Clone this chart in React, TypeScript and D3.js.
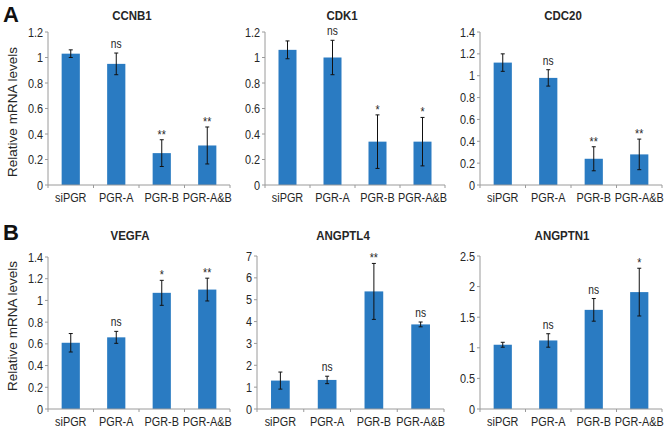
import React from "react";
import * as d3 from "d3";

const categories = ["siPGR", "PGR-A", "PGR-B", "PGR-A&B"];

const ccnb1Values = [1.03, 0.95, 0.25, 0.31];
const ccnb1Err = [0.03, 0.085, 0.105, 0.145];
const ccnb1Marks = ["", "ns", "**", "**"];

const cdk1Values = [1.06, 1.0, 0.34, 0.34];
const cdk1Err = [0.07, 0.135, 0.21, 0.19];
const cdk1Marks = ["", "ns", "*", "*"];

const cdc20Values = [1.12, 0.98, 0.24, 0.28];
const cdc20Err = [0.08, 0.075, 0.11, 0.14];
const cdc20Marks = ["", "ns", "**", "**"];

const vegfaValues = [0.61, 0.66, 1.07, 1.1];
const vegfaErr = [0.085, 0.055, 0.115, 0.105];
const vegfaMarks = ["", "ns", "*", "**"];

const angptl4Values = [1.3, 1.33, 5.38, 3.87];
const angptl4Err = [0.39, 0.17, 1.28, 0.11];
const angptl4Marks = ["", "ns", "**", "ns"];

const angptn1Values = [1.05, 1.12, 1.62, 1.91];
const angptn1Err = [0.04, 0.11, 0.185, 0.39];
const angptn1Marks = ["", "ns", "ns", "*"];

const ccnb1Ticks = [0, 0.2, 0.4, 0.6, 0.8, 1, 1.2];
const cdk1Ticks = [0, 0.2, 0.4, 0.6, 0.8, 1, 1.2];
const cdc20Ticks = [0, 0.2, 0.4, 0.6, 0.8, 1, 1.2, 1.4];
const vegfaTicks = [0, 0.2, 0.4, 0.6, 0.8, 1, 1.2, 1.4];
const angptl4Ticks = [0, 1, 2, 3, 4, 5, 6, 7];
const angptn1Ticks = [0, 0.5, 1, 1.5, 2, 2.5];

const BAR = "#2a7bc2";
const AXIS = "#9a9a9a";
const TEXT = "#262626";
const FONT = "'Liberation Sans', Arial, sans-serif";
const SX = 0.85;

type PanelProps = {
  title: string;
  values: number[];
  errs: number[];
  marks: string[];
  ticks: number[];
  x0: number;
  x1: number;
  yTop: number;
  yBot: number;
  titleX: number;
  titleY: number;
};

function Panel(p: PanelProps) {
  const x = d3.scaleBand<string>().domain(categories).range([p.x0, p.x1]).paddingInner(0.6).paddingOuter(0.3);
  const xb = d3.scaleBand<string>().domain(categories).range([p.x0, p.x1]);
  const maxT = p.ticks[p.ticks.length - 1];
  const y = d3.scaleLinear().domain([0, maxT]).range([p.yBot, p.yTop]);
  return (
    <g>
      <text
        transform={`translate(${p.titleX},${p.titleY}) scale(${SX},1)`}
        textAnchor="middle"
        fontFamily={FONT}
        fontWeight="bold"
        fontSize={13.5}
        fill={TEXT}
      >
        {p.title}
      </text>
      <line x1={p.x0} x2={p.x0} y1={y(0)} y2={y(maxT)} stroke={AXIS} strokeWidth={1} />
      {p.ticks.map((t) => (
        <g key={t}>
          <line x1={p.x0 - 3} x2={p.x0} y1={y(t)} y2={y(t)} stroke={AXIS} />
          <text
            transform={`translate(${p.x0 - 5},${y(t) + 4.6}) scale(${SX},1)`}
            textAnchor="end"
            fontFamily={FONT}
            fontSize={12.8}
            fill={TEXT}
          >
            {String(t)}
          </text>
        </g>
      ))}
      {categories.map((c, i) => {
        const cx = (x(c) as number) + x.bandwidth() / 2;
        const v = p.values[i];
        const e = p.errs[i];
        const top = y(v + e);
        const bot = y(v - e);
        const mark = p.marks[i];
        return (
          <g key={c}>
            <rect x={x(c)} y={y(v)} width={x.bandwidth()} height={y(0) - y(v)} fill={BAR} />
            <line x1={cx} x2={cx} y1={top} y2={bot} stroke="#111" strokeWidth={1} />
            <line x1={cx - 2} x2={cx + 2} y1={top} y2={top} stroke="#111" strokeWidth={1} />
            <line x1={cx - 2} x2={cx + 2} y1={bot} y2={bot} stroke="#111" strokeWidth={1} />
            {mark && (
              <text
                transform={`translate(${cx},${mark === "ns" ? top - 5 : top - 1}) scale(${SX},1)`}
                textAnchor="middle"
                fontFamily={FONT}
                fontSize={mark === "ns" ? 12 : 12.5}
                fill={TEXT}
              >
                {mark}
              </text>
            )}
          </g>
        );
      })}
      <line x1={p.x0} x2={p.x1} y1={y(0)} y2={y(0)} stroke={AXIS} strokeWidth={1} />
      {categories.map((c) => (
        <line key={"t" + c} x1={xb(c)} x2={xb(c)} y1={y(0)} y2={y(0) + 3} stroke={AXIS} />
      ))}
      <line x1={p.x1} x2={p.x1} y1={y(0)} y2={y(0) + 3} stroke={AXIS} />
      {categories.map((c) => (
        <text
          key={"l" + c}
          transform={`translate(${(xb(c) as number) + xb.bandwidth() / 2},${y(0) + 17}) scale(${SX},1)`}
          textAnchor="middle"
          fontFamily={FONT}
          fontSize={12.8}
          fill={TEXT}
        >
          {c}
        </text>
      ))}
    </g>
  );
}

export default function App() {
  return (
    <svg width={667} height={428} style={{ position: "absolute", left: 0, top: 0, background: "#fff" }}>
      <rect width={667} height={428} fill="#fff" />
      <text x={3} y={22} fontFamily={FONT} fontWeight="bold" fontSize={22} fill="#111">A</text>
      <text x={3} y={240} fontFamily={FONT} fontWeight="bold" fontSize={22} fill="#111">B</text>
      <text
        transform="translate(17,112) rotate(-90)"
        textAnchor="middle"
        fontFamily={FONT}
        fontSize={13.5}
        fill={TEXT}
      >
        Relative mRNA levels
      </text>
      <text
        transform="translate(17,326) rotate(-90)"
        textAnchor="middle"
        fontFamily={FONT}
        fontSize={13.5}
        fill={TEXT}
      >
        Relative mRNA levels
      </text>
      <Panel title="CCNB1" values={ccnb1Values} errs={ccnb1Err} marks={ccnb1Marks} ticks={ccnb1Ticks}
        x0={48} x1={230} yTop={32} yBot={185} titleX={132} titleY={20} />
      <Panel title="CDK1" values={cdk1Values} errs={cdk1Err} marks={cdk1Marks} ticks={cdk1Ticks}
        x0={265} x1={445} yTop={32} yBot={185} titleX={342} titleY={20} />
      <Panel title="CDC20" values={cdc20Values} errs={cdc20Err} marks={cdc20Marks} ticks={cdc20Ticks}
        x0={480} x1={662} yTop={32} yBot={185} titleX={563} titleY={20} />
      <Panel title="VEGFA" values={vegfaValues} errs={vegfaErr} marks={vegfaMarks} ticks={vegfaTicks}
        x0={48} x1={230} yTop={257} yBot={409} titleX={130} titleY={240} />
      <Panel title="ANGPTL4" values={angptl4Values} errs={angptl4Err} marks={angptl4Marks} ticks={angptl4Ticks}
        x0={257} x1={444} yTop={256} yBot={409} titleX={343} titleY={240} />
      <Panel title="ANGPTN1" values={angptn1Values} errs={angptn1Err} marks={angptn1Marks} ticks={angptn1Ticks}
        x0={480} x1={662} yTop={256} yBot={409} titleX={562} titleY={240} />
    </svg>
  );
}
